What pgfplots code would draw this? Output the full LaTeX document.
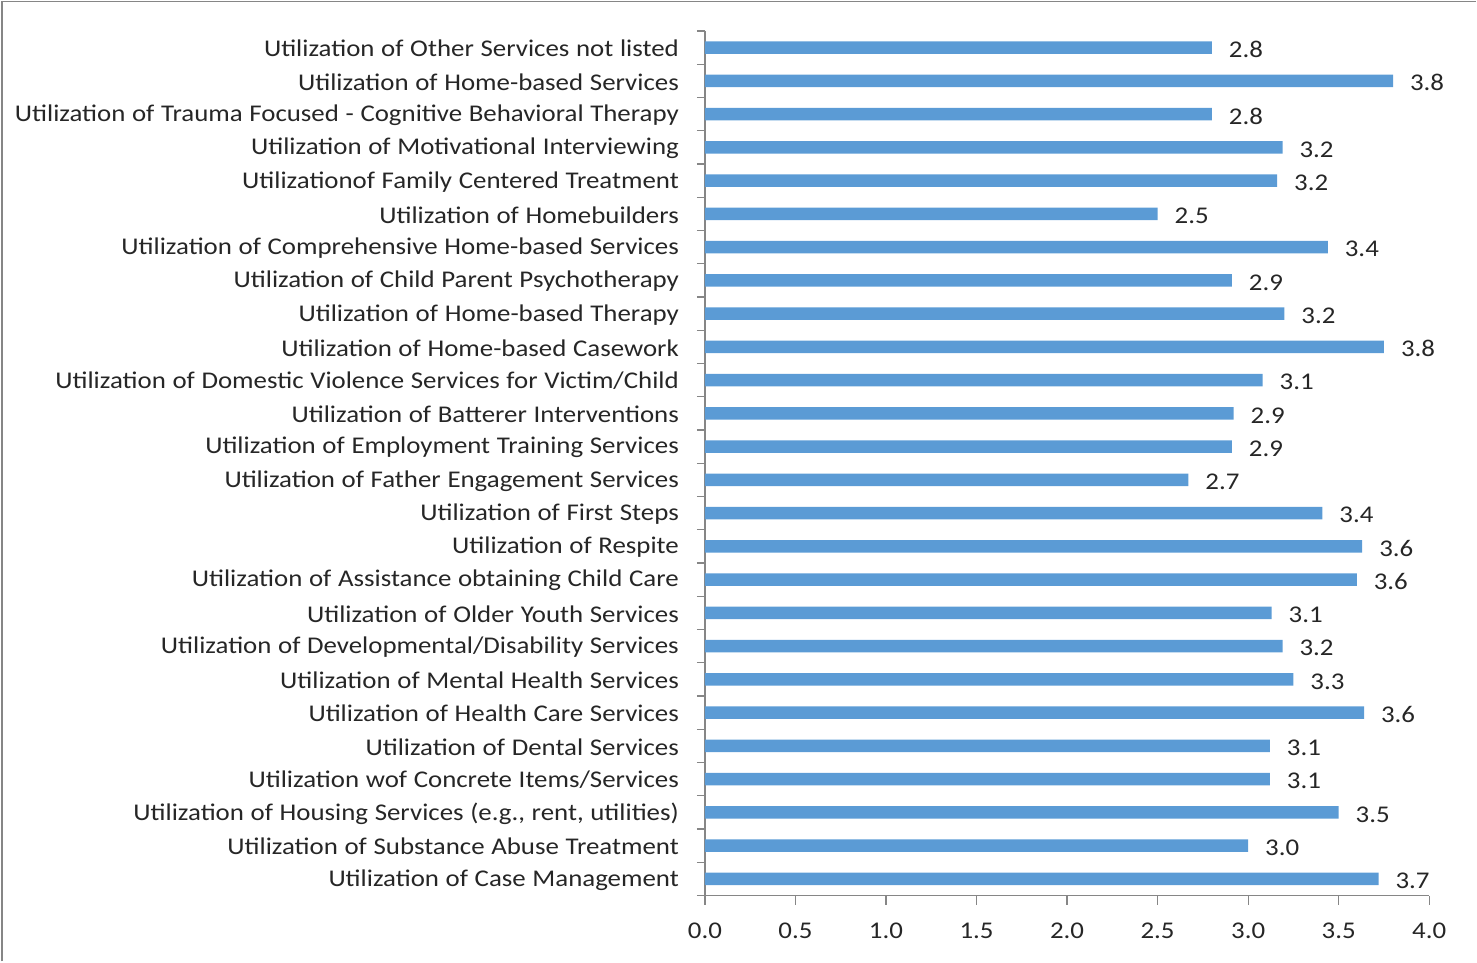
\documentclass[border=0pt]{standalone}
\usepackage{pgfplots}
\pgfplotsset{compat=1.18}
\usepackage{pgfplotstable}
\usepackage{fontspec}
\setmainfont{Carlito}[FakeStretch=1.12, WordSpace=1.1]
\definecolor{barblue}{HTML}{5B9BD5}
\definecolor{axisgray}{HTML}{868686}
\definecolor{txt}{HTML}{262626}
\pgfplotstableread[col sep=comma]{
idx,val,lab
0,2.80,2.8
1,3.80,3.8
2,2.80,2.8
3,3.19,3.2
4,3.16,3.2
5,2.50,2.5
6,3.44,3.4
7,2.91,2.9
8,3.20,3.2
9,3.75,3.8
10,3.08,3.1
11,2.92,2.9
12,2.91,2.9
13,2.67,2.7
14,3.41,3.4
15,3.63,3.6
16,3.60,3.6
17,3.13,3.1
18,3.19,3.2
19,3.25,3.3
20,3.64,3.6
21,3.12,3.1
22,3.12,3.1
23,3.50,3.5
24,3.00,3.0
25,3.72,3.7
}\datatable
\begin{document}
\begin{tikzpicture}
\path (-352.65pt,-33pt) rectangle (385.85pt,448pt);
\draw[axisgray, line width=0.8pt] (-351.5pt,-33pt) -- (-351.5pt,447.3pt) -- (385.85pt,447.3pt);
\begin{axis}[
  at={(0,0)}, anchor=south west,
  scale only axis,
  width=362.35pt, height=432.5pt,
  xmin=0, xmax=4, ymin=-0.5, ymax=25.5,
  y dir=reverse,
  axis x line*=bottom, axis y line*=left,
  axis line style={axisgray, line width=0.6pt},
  xtick={0,0.5,...,4},
  xticklabels={0.0,0.5,1.0,1.5,2.0,2.5,3.0,3.5,4.0},
  ytick={0,...,25},
  yticklabels={
    {Utilization of Other Services not listed},
    {Utilization of Home-based Services},
    {Utilization of Trauma Focused - Cognitive Behavioral Therapy},
    {Utilization of Motivational Interviewing},
    {Utilizationof Family Centered Treatment},
    {Utilization of Homebuilders},
    {Utilization of Comprehensive Home-based Services},
    {Utilization of Child Parent Psychotherapy},
    {Utilization of Home-based Therapy},
    {Utilization of Home-based Casework},
    {Utilization of Domestic Violence Services for Victim/Child},
    {Utilization of Batterer Interventions},
    {Utilization of Employment Training Services},
    {Utilization of Father Engagement Services},
    {Utilization of First Steps},
    {Utilization of Respite},
    {Utilization of Assistance obtaining Child Care},
    {Utilization of Older Youth Services},
    {Utilization of Developmental/Disability Services},
    {Utilization of Mental Health Services},
    {Utilization of Health Care Services},
    {Utilization of Dental Services},
    {Utilization wof Concrete Items/Services},
    {Utilization of Housing Services (e.g., rent, utilities)},
    {Utilization of Substance Abuse Treatment},
    {Utilization of Case Management}},
  minor ytick={-0.5,0.5,...,25.5},
  tick align=outside,
  major tick length=4.5pt, minor tick length=4pt,
  tick style={axisgray, line width=0.6pt},
  major y tick style={draw=none},
  tick label style={font=\fontsize{12}{14}\selectfont, text=txt},
  yticklabel style={anchor=east, xshift=-5pt, yshift=-0.5pt},
  xticklabel style={yshift=-5.5pt},
  /pgf/number format/assume math mode=true,
  xbar, bar width=6.2pt, bar shift=0pt,
  nodes near coords,
  point meta=explicit symbolic,
  nodes near coords style={anchor=west, xshift=5pt, yshift=-1pt, font=\fontsize{12}{14}\selectfont, text=txt},
  clip=false,
]
\addplot[fill=barblue, draw=none] table[x=val, y=idx, meta=lab] {\datatable};
\end{axis}
\end{tikzpicture}
\end{document}
